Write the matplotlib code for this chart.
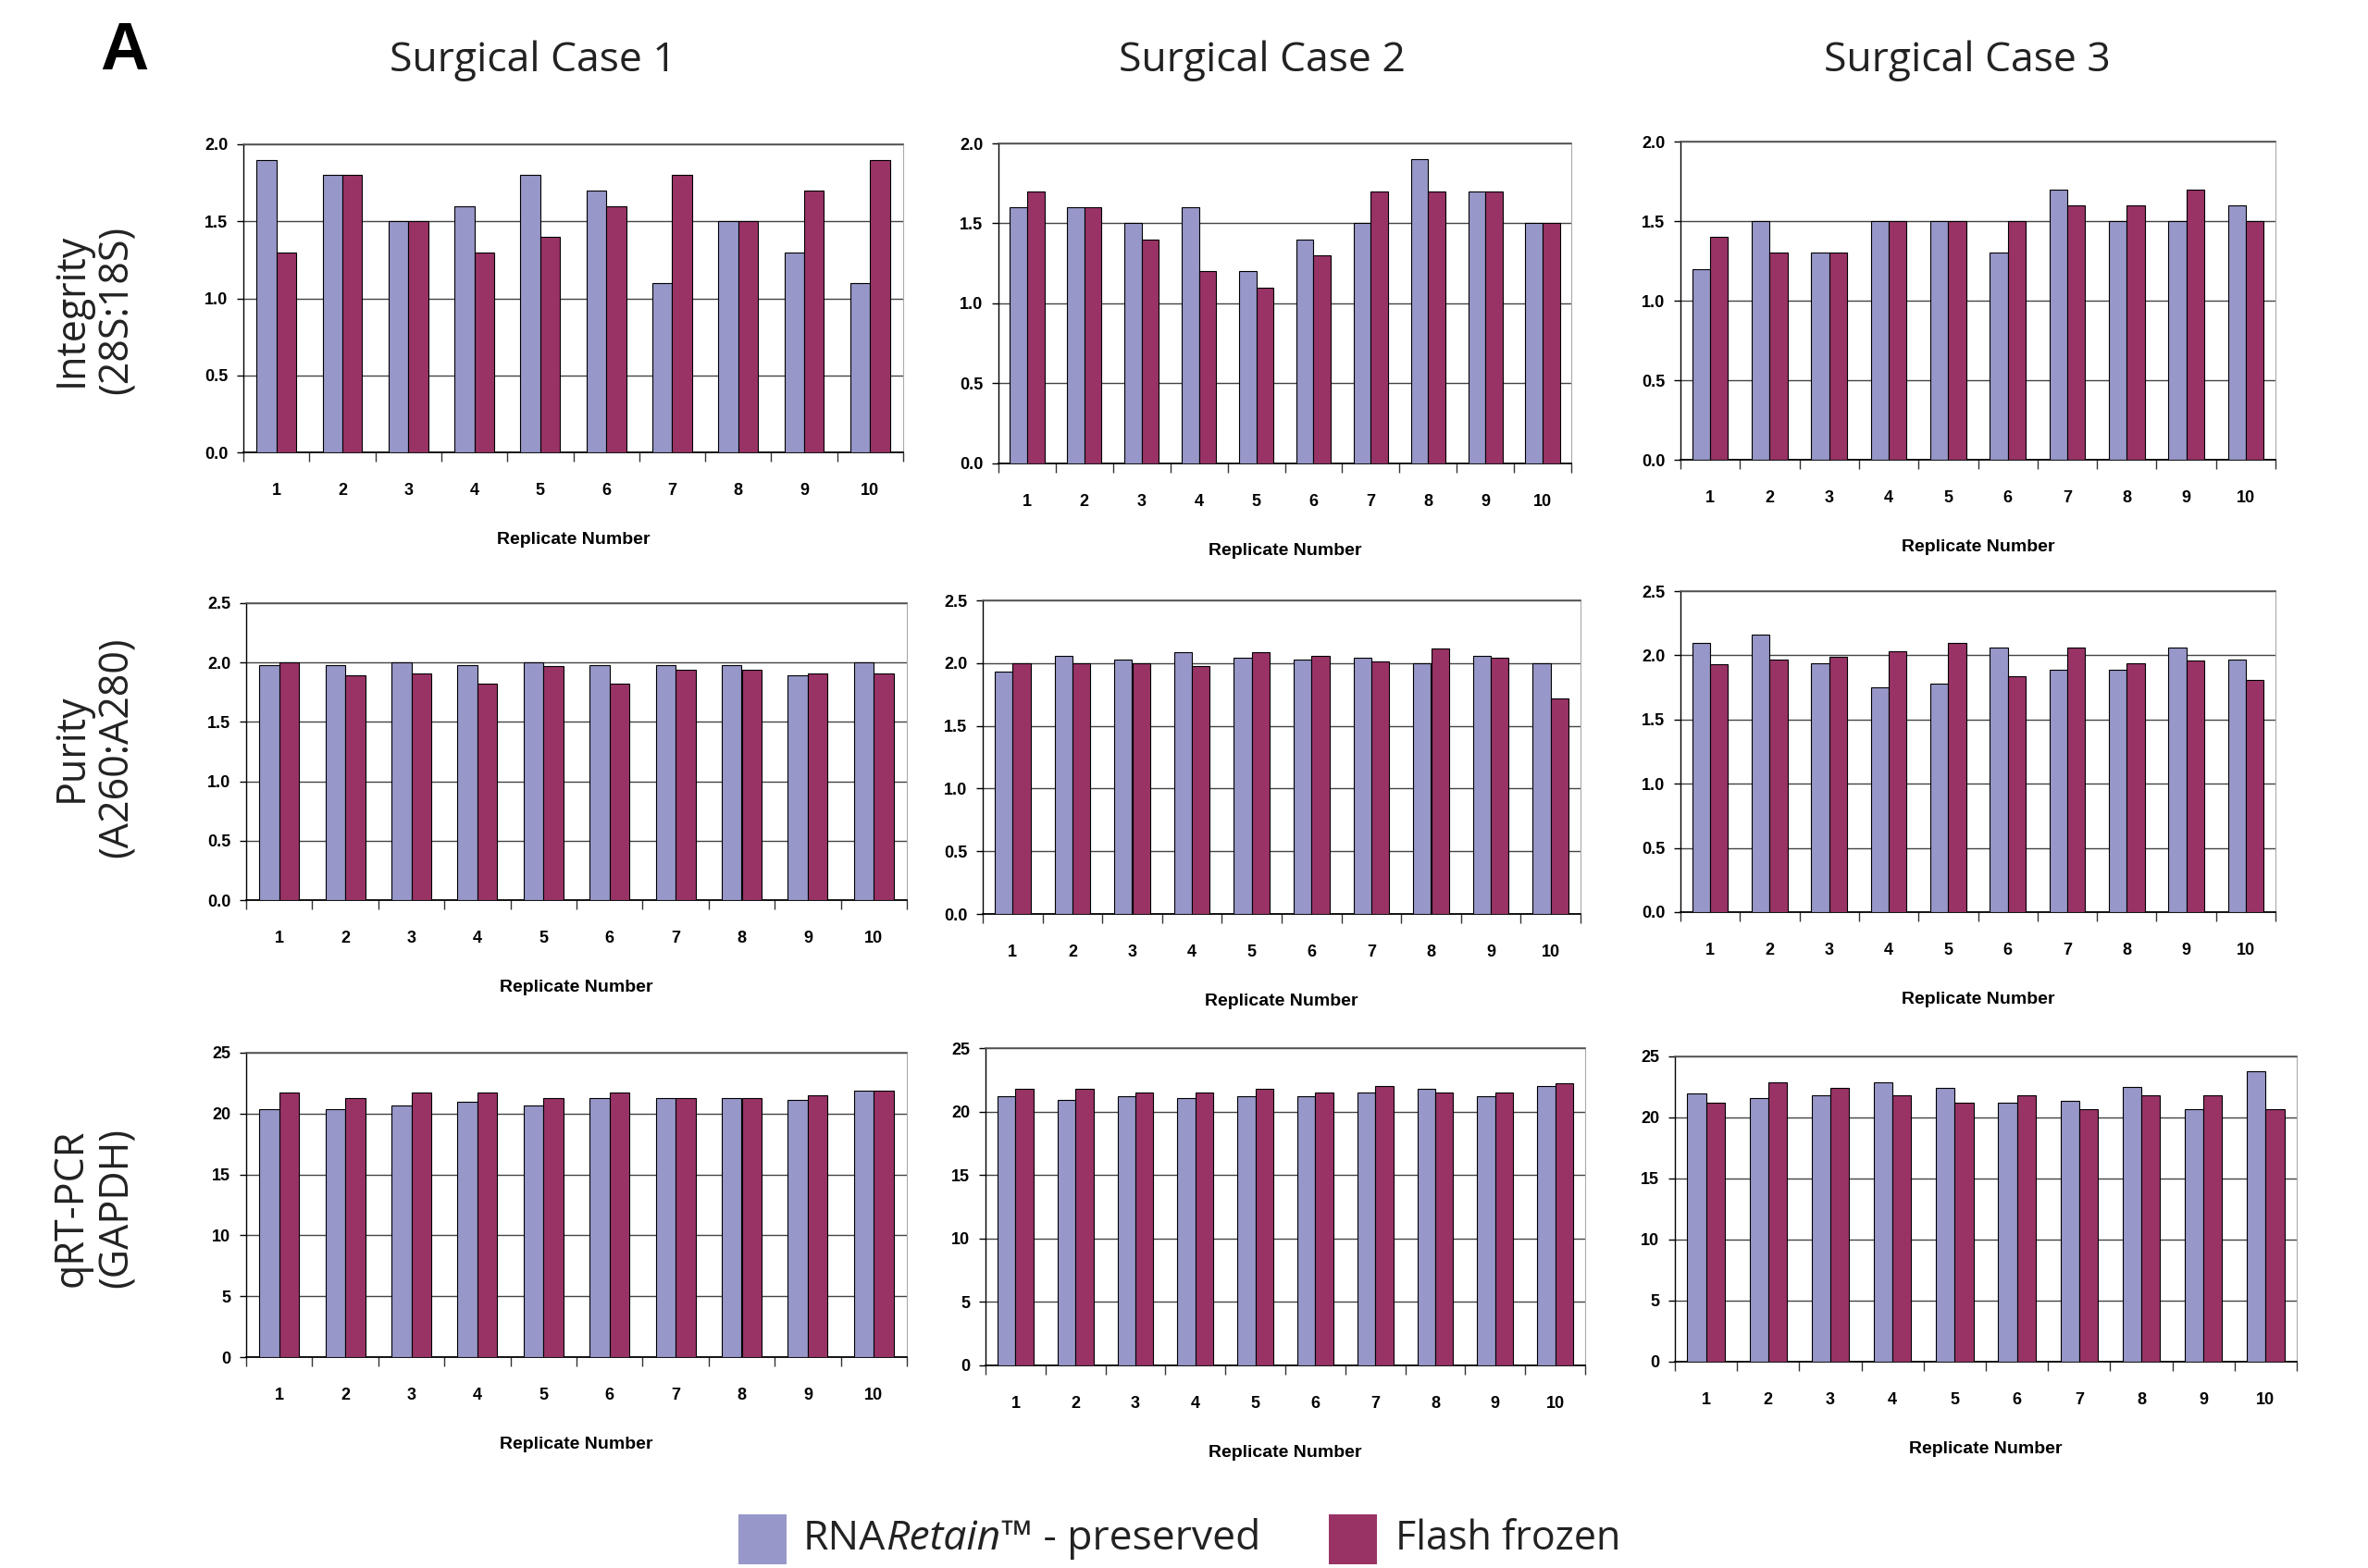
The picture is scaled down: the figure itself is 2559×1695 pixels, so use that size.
import numpy as np
import matplotlib
matplotlib.use("Agg")
import matplotlib.pyplot as plt
from matplotlib.ticker import FixedLocator, NullFormatter, FixedFormatter

# replicate numbers on the x axis
replicates = np.arange(1, 11)

# RNA integrity (28S:18S)
integrity_rnaretain = [
    [1.9, 1.8, 1.5, 1.6, 1.8, 1.7, 1.1, 1.5, 1.3, 1.1],
    [1.6, 1.6, 1.5, 1.6, 1.2, 1.4, 1.5, 1.9, 1.7, 1.5],
    [1.2, 1.5, 1.3, 1.5, 1.5, 1.3, 1.7, 1.5, 1.5, 1.6],
]
integrity_frozen = [
    [1.3, 1.8, 1.5, 1.3, 1.4, 1.6, 1.8, 1.5, 1.7, 1.9],
    [1.7, 1.6, 1.4, 1.2, 1.1, 1.3, 1.7, 1.7, 1.7, 1.5],
    [1.4, 1.3, 1.3, 1.5, 1.5, 1.5, 1.6, 1.6, 1.7, 1.5],
]

# purity (A260:A280)
purity_rnaretain = [
    [1.98, 1.98, 2.00, 1.98, 2.00, 1.98, 1.98, 1.98, 1.89, 2.00],
    [1.93, 2.06, 2.03, 2.09, 2.04, 2.03, 2.04, 2.00, 2.06, 2.00],
    [2.10, 2.16, 1.94, 1.75, 1.78, 2.06, 1.89, 1.89, 2.06, 1.97],
]
purity_frozen = [
    [2.00, 1.89, 1.91, 1.82, 1.97, 1.82, 1.94, 1.94, 1.91, 1.91],
    [2.00, 2.00, 2.00, 1.98, 2.09, 2.06, 2.01, 2.12, 2.04, 1.72],
    [1.93, 1.97, 1.99, 2.03, 2.10, 1.84, 2.06, 1.94, 1.96, 1.81],
]

# qRT-PCR Ct values (GAPDH)
qpcr_rnaretain = [
    [20.4, 20.4, 20.7, 21.0, 20.7, 21.3, 21.3, 21.3, 21.1, 21.9],
    [21.2, 20.9, 21.2, 21.1, 21.2, 21.2, 21.5, 21.8, 21.2, 22.0],
    [22.0, 21.6, 21.8, 22.9, 22.4, 21.2, 21.4, 22.5, 20.7, 23.8],
]
qpcr_frozen = [
    [21.7, 21.3, 21.7, 21.7, 21.3, 21.7, 21.3, 21.3, 21.5, 21.9],
    [21.8, 21.8, 21.5, 21.5, 21.8, 21.5, 22.0, 21.5, 21.5, 22.2],
    [21.2, 22.9, 22.4, 21.8, 21.2, 21.8, 20.7, 21.8, 21.8, 20.7],
]

case_titles = ["Surgical Case 1", "Surgical Case 2", "Surgical Case 3"]
row_labels = ["Integrity\n(28S:18S)", "Purity\n(A260:A280)", "qRT-PCR\n(GAPDH)"]
row_ticks = [
    [0.0, 0.5, 1.0, 1.5, 2.0],
    [0.0, 0.5, 1.0, 1.5, 2.0, 2.5],
    [0, 5, 10, 15, 20, 25],
]
row_tick_fmt = ["{:.1f}", "{:.1f}", "{:d}"]
series_names = ["RNA", "Retain", "™ - preserved", "Flash frozen"]

BLUE = "#9797C9"
PLUM = "#993366"

W, H = 2559, 1695
fig = plt.figure(figsize=(W / 100, H / 100), dpi=100)

# plot-area boxes in pixels: left, top, right, bottom
boxes = [
    [(263, 156, 976, 489), (1079, 155, 1698, 501), (1816, 153, 2459, 497)],
    [(266, 652, 980, 973), (1062, 649, 1708, 988), (1816, 639, 2459, 986)],
    [(266, 1138, 980, 1467), (1065, 1133, 1713, 1476), (1810, 1142, 2482, 1472)],
]

data = [
    (integrity_rnaretain, integrity_frozen),
    (purity_rnaretain, purity_frozen),
    (qpcr_rnaretain, qpcr_frozen),
]

tick_font = dict(family="Liberation Sans", weight="bold", size=13)
big_font = "Open Sans"

for r in range(3):
    blue_rows, plum_rows = data[r]
    for c in range(3):
        l, t, rr, b = boxes[r][c]
        ax = fig.add_axes([l / W, 1 - b / H, (rr - l) / W, (b - t) / H])
        w = 0.3
        ax.bar(replicates - w / 2, blue_rows[c], width=w, color=BLUE,
               edgecolor="black", linewidth=0.8, zorder=3)
        ax.bar(replicates + w / 2, plum_rows[c], width=w, color=PLUM,
               edgecolor="black", linewidth=0.8, zorder=3)

        ax.set_xlim(0.5, 10.5)
        ax.set_ylim(row_ticks[r][0], row_ticks[r][-1])

        # category boundaries get the tick marks, centres get the labels
        ax.xaxis.set_major_locator(FixedLocator(np.arange(0.5, 11.0, 1.0)))
        ax.xaxis.set_major_formatter(NullFormatter())
        ax.xaxis.set_minor_locator(FixedLocator(replicates))
        ax.xaxis.set_minor_formatter(FixedFormatter([str(v) for v in replicates]))
        ax.tick_params(axis="x", which="major", direction="out", length=7,
                       width=1, color="#333333")
        ax.tick_params(axis="x", which="minor", length=0, pad=24)

        ax.set_yticks(row_ticks[r])
        ax.set_yticklabels([row_tick_fmt[r].format(v) for v in row_ticks[r]])
        ax.tick_params(axis="y", direction="out", length=5, width=1, pad=7)

        for lab in ax.get_xticklabels(minor=True) + ax.get_yticklabels():
            lab.set_fontfamily(tick_font["family"])
            lab.set_fontweight(tick_font["weight"])
            lab.set_fontsize(tick_font["size"])

        ax.yaxis.grid(True, color="#444444", linewidth=1.0, zorder=0)
        ax.set_axisbelow(True)
        ax.spines["left"].set_color("black")
        ax.spines["left"].set_linewidth(1.0)
        ax.spines["bottom"].set_color("black")
        ax.spines["bottom"].set_linewidth(1.3)
        ax.spines["top"].set_color("#555555")
        ax.spines["top"].set_linewidth(1.2)
        ax.spines["right"].set_color("#aaaaaa")
        ax.spines["right"].set_linewidth(0.8)

        ax.annotate("Replicate Number", xy=(0.5, 0), xycoords="axes fraction",
                    xytext=(0, -68), textcoords="offset points",
                    ha="center", va="center", fontsize=14,
                    family="Liberation Sans", weight="bold")

# column headings
for c, title in enumerate(case_titles):
    cx = [576, 1364, 2126][c]
    fig.text(cx / W, 1 - 66 / H, title, family=big_font, fontsize=32,
             ha="center", va="center", color="#222222")

# row headings
for r, label in enumerate(row_labels):
    cy = [335, 808, 1306][r]
    fig.text(102 / W, 1 - cy / H, label, family=big_font, fontsize=31,
             rotation=90, ha="center", va="center", linespacing=1.15,
             multialignment="center", color="#222222")

# panel letter
fig.text(108 / W, 1 - 56 / H, "A", family="Liberation Sans", weight="bold",
         fontsize=52, ha="left", va="center")

# legend: swatches plus text, "Retain" set in italics
renderer = fig.canvas.get_renderer()
leg_y = 1 - 1664 / H
sw = 52
for x0, color in [(798, BLUE), (1436, PLUM)]:
    fig.patches.append(plt.Rectangle((x0 / W, 1 - 1691 / H), sw / W, 54 / H,
                                     transform=fig.transFigure,
                                     facecolor=color, edgecolor="none"))

x = 868
for part, style in [(series_names[0], "normal"), (series_names[1], "italic"),
                    (series_names[2], "normal")]:
    txt = fig.text(x / W, leg_y, part, family=big_font, style=style,
                   fontsize=32, ha="left", va="center", color="#222222")
    bb = txt.get_window_extent(renderer=renderer)
    x += bb.width
fig.text(1508 / W, leg_y, series_names[3], family=big_font, fontsize=31,
         ha="left", va="center", color="#222222")

fig.savefig("out.png", dpi=100, facecolor="white")
